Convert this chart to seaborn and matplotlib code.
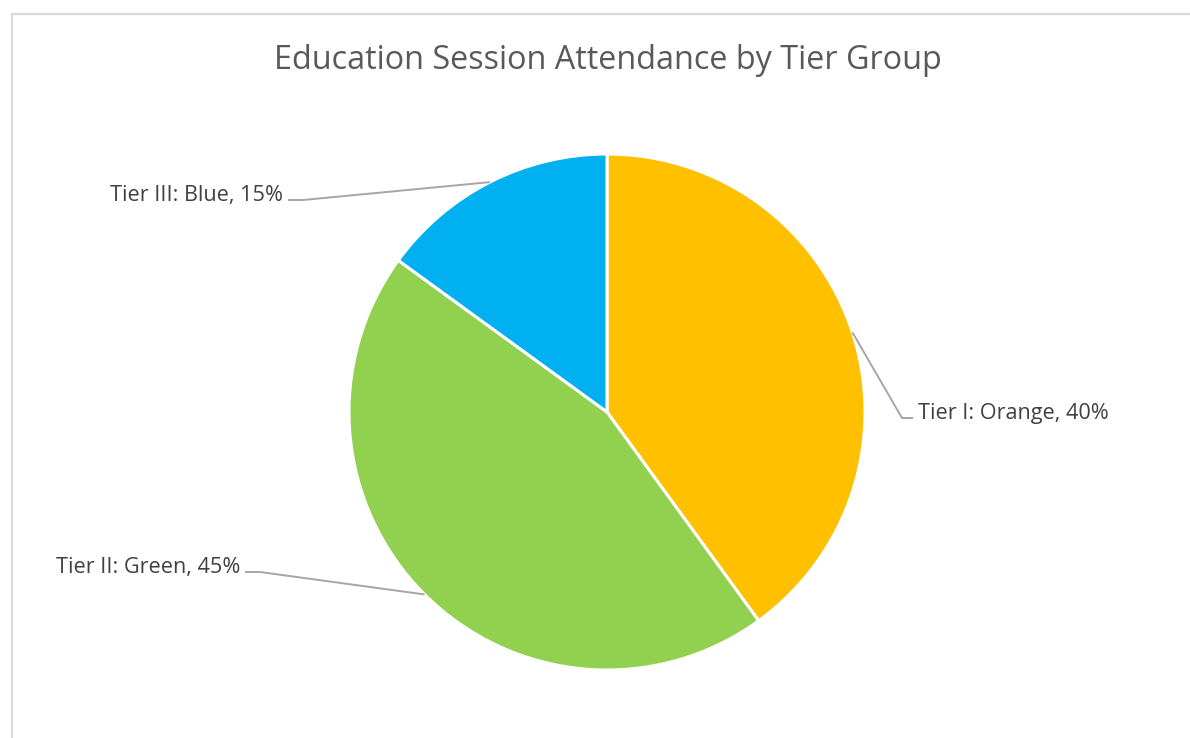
import numpy as np
import matplotlib
matplotlib.use("Agg")
import matplotlib.pyplot as plt
import seaborn as sns
from matplotlib.patches import Rectangle

# data
tiers = ["Tier I: Orange", "Tier II: Green", "Tier III: Blue"]
shares = [40, 45, 15]
colors = ["#FFC000", "#92D050", "#00B0F0"]

sns.set_theme(style="white")
plt.rcParams['font.family'] = ['Open Sans', 'DejaVu Sans']

W, H = 1190, 738
fig = plt.figure(figsize=(W / 100, H / 100), dpi=100)
ax = fig.add_axes([0, 0, 1, 1])

cx, cy, r = 607, H - 412, 258
wedges, _ = ax.pie(shares, colors=colors, startangle=90, counterclock=False,
                   center=(cx, cy), radius=r,
                   wedgeprops=dict(edgecolor="white", linewidth=2.2))
ax.set_xlim(0, W)
ax.set_ylim(0, H)
ax.set_aspect("equal")
ax.axis("off")

# label layout (pixel positions of text anchor, baseline)
label_pos = [(918, H - 419, "left"), (240, H - 573, "right"), (283, H - 201, "right")]

for w, name, val, (lx, ly, ha) in zip(wedges, tiers, shares, label_pos):
    ang = np.deg2rad((w.theta1 + w.theta2) / 2)
    p0 = (cx + r * np.cos(ang), cy + r * np.sin(ang))
    if ha == "left":
        xs = [p0[0], lx - 16, lx - 5]
    else:
        xs = [p0[0], lx + 20, lx + 5]
    ys = [p0[1], ly + 1, ly + 1]
    ax.plot(xs, ys, color="#a6a6a6", lw=1.4, solid_capstyle="butt", zorder=1)
    ax.text(lx, ly, f"{name}, {val}%", ha=ha, va="baseline",
            fontsize=15.6, color="#404040")

ax.text(608, H - 69, "Education Session Attendance by Tier Group", ha="center",
        va="baseline", fontsize=23.3, color="#595959")

ax.add_patch(Rectangle((11.5, -20), W + 50, H - 13.5 + 20, fill=False,
                       edgecolor="#d9d9d9", lw=1.6, clip_on=False))

fig.savefig("out.png", dpi=100)
